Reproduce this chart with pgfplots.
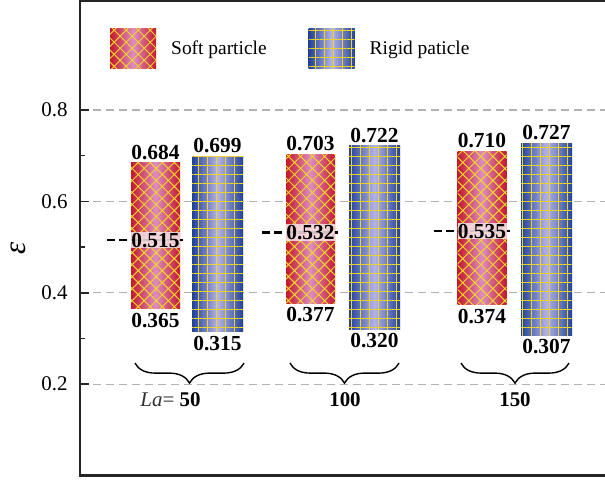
\documentclass[border=0pt]{standalone}
\usepackage{fontspec}
\setmainfont{Liberation Serif}
\usepackage{pgfplots}
\usepackage{pgfplotstable}
\pgfplotsset{compat=1.18}
\usetikzlibrary{patterns.meta,decorations.pathreplacing}

\definecolor{softedge}{RGB}{196,24,44}
\definecolor{softmid}{RGB}{222,140,196}
\definecolor{rigedge}{RGB}{34,66,152}
\definecolor{rigmid}{RGB}{180,180,228}
\definecolor{hatchy}{RGB}{240,212,40}
\definecolor{meanbg}{RGB}{246,226,234}

\newcommand\vfont{\fontsize{21.5}{22}\selectfont\bfseries}

\tikzset{
  softbar/.style={draw=none,
    preaction={left color=softedge, right color=softedge, middle color=softmid},
    pattern={Hatch[angle=45,distance=8.5bp,line width=1.0bp]}, pattern color=hatchy},
  rigidbar/.style={draw=none,
    preaction={left color=rigedge, right color=rigedge, middle color=rigmid},
    pattern={Hatch[angle=0,distance=9bp,line width=1.0bp]}, pattern color=hatchy},
  vtop/.style={anchor=south, inner sep=3bp, font=\vfont},
  vbot/.style={anchor=north, inner sep=4bp, font=\vfont},
  meanlbl/.style={fill=meanbg, fill opacity=0.85, text opacity=1, inner xsep=0pt, inner ysep=1bp,
    minimum width=49bp, font=\vfont},
  meanline/.style={black, line width=2.2bp, dash pattern=on 8bp off 4bp},
  gbrace/.style={decorate, decoration={brace, mirror, amplitude=20bp}, line width=1.4bp, black},
}
\pgfplotsset{
  frame/.style={scale only axis, width=560bp, height=474bp, at={(80bp,5.5bp)}, anchor=south west,
    xmin=80, xmax=640, ymin=0, ymax=1.0375},
}

% one small table per La group: row 0 = soft particle, row 1 = rigid particle
\pgfplotstableread{
x lo mean hi
155.5 0.365 0.515 0.684
217.5 0.315 nan 0.699
}\gA
\pgfplotstableread{
x lo mean hi
310.5 0.377 0.532 0.703
374.5 0.320 nan 0.722
}\gB
\pgfplotstableread{
x lo mean hi
482 0.374 0.535 0.710
546.5 0.307 nan 0.727
}\gC

% floating bar: invisible base (lo) + visible range (hi-lo), one bar per axis
\newcommand\floatbar[5]{%
\begin{axis}[frame, hide axis, ybar stacked, bar width=#5]
\addplot[draw=none, fill=none, skip coords between index={#2}{#3}] table[x=x, y=lo] {#1};
\addplot[#4, skip coords between index={#2}{#3}] table[x=x, y expr=\thisrow{hi}-\thisrow{lo}] {#1};
\end{axis}}

\begin{document}
\begin{tikzpicture}
\useasboundingbox (0,0) rectangle (605bp,481bp);
\clip (0,0) rectangle (605bp,481bp);

% frame, grid, ticks, legend
\begin{axis}[frame,
  xtick=\empty, ytick={0.2,0.4,0.6,0.8}, minor ytick={0.3,0.5,0.7},
  ytick pos=left, tick align=inside, major tick length=9bp, minor tick length=5bp,
  every tick/.style={black!85, line width=1.6bp},
  ymajorgrids, major grid style={gray!60, line width=1.1bp, dash pattern=on 8bp off 5bp},
  axis line style={black!85, line width=2bp},
  /pgf/number format/assume math mode=true,
  yticklabel style={font=\fontsize{21}{21}\selectfont, xshift=-9bp,
    /pgf/number format/fixed, /pgf/number format/precision=1},
  ylabel={\textit{ε}},
  ylabel style={font=\fontsize{31}{31}\selectfont, at={(axis description cs:-0.110,0.48)}, anchor=center},
  legend columns=2,
  legend image code/.code={\path[#1] (0bp,-20bp) rectangle (46bp,20bp);},
  legend style={draw=none, fill=none, at={(axis description cs:0.0536,0.944)}, anchor=north west,
     inner sep=0pt, font=\fontsize{19.5}{20}\selectfont, nodes={inner sep=0pt},
     /tikz/every odd column/.append style={column sep=15bp},
     /tikz/every even column/.append style={column sep=42bp}},
]
\addlegendimage{softbar}\addlegendentry{Soft particle}
\addlegendimage{rigidbar}\addlegendentry{Rigid paticle}
\end{axis}

\floatbar{\gA}{1}{2}{softbar}{49bp}
\floatbar{\gA}{0}{1}{rigidbar}{51bp}
\floatbar{\gB}{1}{2}{softbar}{49bp}
\floatbar{\gB}{0}{1}{rigidbar}{51bp}
\floatbar{\gC}{1}{2}{softbar}{49bp}
\floatbar{\gC}{0}{1}{rigidbar}{51bp}

% annotations
\begin{axis}[frame, hide axis, clip=false]
\addplot[meanline] coordinates {(107,0.515) (183,0.515)};
\addplot[meanline] coordinates {(262,0.532) (338,0.532)};
\addplot[meanline] coordinates {(434,0.535) (510,0.535)};
\node[meanlbl] at (axis cs:155.5,0.515) {0.515};
\node[meanlbl] at (axis cs:310.5,0.532) {0.532};
\node[meanlbl] at (axis cs:482,0.535) {0.535};

\node[vtop] at (axis cs:155.5,0.684) {0.684};
\node[vtop] at (axis cs:310.5,0.703) {0.703};
\node[vtop] at (axis cs:482,0.710) {0.710};
\node[vbot] at (axis cs:155.5,0.365) {0.365};
\node[vbot] at (axis cs:310.5,0.377) {0.377};
\node[vbot] at (axis cs:482,0.374) {0.374};

\node[vtop] at (axis cs:217.5,0.699) {0.699};
\node[vtop] at (axis cs:374.5,0.722) {0.722};
\node[vtop] at (axis cs:546.5,0.727) {0.727};
\node[vbot] at (axis cs:217.5,0.315) {0.315};
\node[vbot] at (axis cs:374.5,0.320) {0.320};
\node[vbot] at (axis cs:546.5,0.307) {0.307};

\draw[gbrace] (axis cs:135,0.246) -- (axis cs:244,0.246);
\draw[gbrace] (axis cs:290,0.246) -- (axis cs:399,0.246);
\draw[gbrace] (axis cs:461,0.246) -- (axis cs:569,0.246);

\node[font=\fontsize{21}{21}\selectfont] at (axis cs:190,0.165) {\llap{\textcolor{black!80}{\textit{La}=} }\textbf{50}};
\node[font=\fontsize{21}{21}\selectfont] at (axis cs:345,0.165) {\textbf{100}};
\node[font=\fontsize{21}{21}\selectfont] at (axis cs:515,0.165) {\textbf{150}};
\end{axis}
\end{tikzpicture}
\end{document}
